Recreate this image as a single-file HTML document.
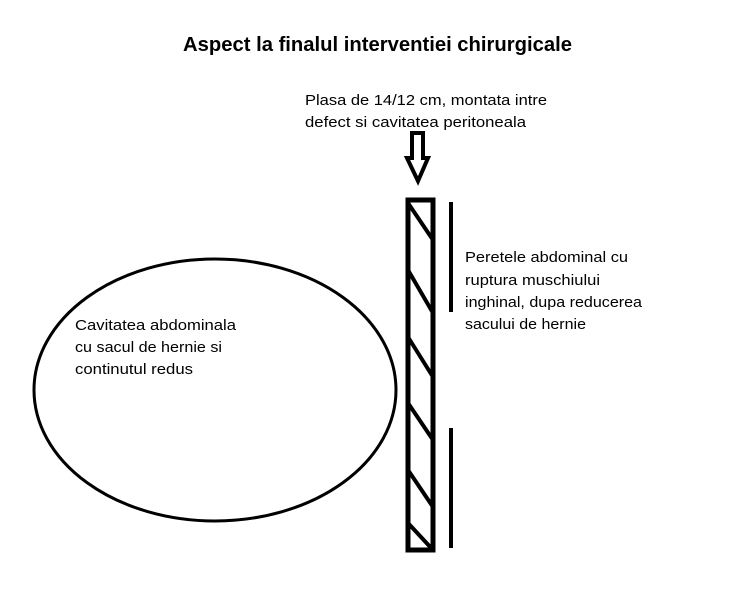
<!DOCTYPE html>
<html><head><style>
body{margin:0;background:#fff;}
svg{display:block}
text{font-family:"Liberation Sans",sans-serif;font-size:15px;fill:#000}
</style></head><body>
<svg width="752" height="595" viewBox="0 0 752 595">
<text x="183" y="51" textLength="389" lengthAdjust="spacingAndGlyphs" style="font-size:20px;font-weight:bold">Aspect la finalul interventiei chirurgicale</text>
<text x="305" y="105" textLength="242" lengthAdjust="spacingAndGlyphs">Plasa de 14/12 cm, montata intre</text>
<text x="305" y="127" textLength="221" lengthAdjust="spacingAndGlyphs">defect si cavitatea peritoneala</text>
<text x="465" y="262" textLength="163" lengthAdjust="spacingAndGlyphs">Peretele abdominal cu</text>
<text x="465" y="285" textLength="135" lengthAdjust="spacingAndGlyphs">ruptura muschiului</text>
<text x="465" y="307" textLength="177" lengthAdjust="spacingAndGlyphs">inghinal, dupa reducerea</text>
<text x="465" y="329" textLength="121" lengthAdjust="spacingAndGlyphs">sacului de hernie</text>
<text x="75" y="330" textLength="161" lengthAdjust="spacingAndGlyphs">Cavitatea abdominala</text>
<text x="75" y="352" textLength="147" lengthAdjust="spacingAndGlyphs">cu sacul de hernie si</text>
<text x="75" y="374" textLength="118" lengthAdjust="spacingAndGlyphs">continutul redus</text>
<ellipse cx="215" cy="390" rx="181" ry="131" fill="none" stroke="#000" stroke-width="3"/>
<path d="M412 133 H423 V158 H428 L418 181 L407 158 H412 Z" fill="none" stroke="#000" stroke-width="4" stroke-linejoin="miter"/>
<rect x="408" y="200" width="25" height="350" fill="none" stroke="#000" stroke-width="5"/>
<g stroke="#000" stroke-width="4">
<line x1="408" y1="203" x2="433" y2="240"/>
<line x1="408" y1="270" x2="433" y2="313"/>
<line x1="408" y1="337" x2="433" y2="377"/>
<line x1="408" y1="403" x2="433" y2="440"/>
<line x1="408" y1="470" x2="433" y2="507"/>
<line x1="408" y1="523" x2="433" y2="550"/>
<line x1="451" y1="202" x2="451" y2="312"/>
<line x1="451" y1="428" x2="451" y2="548"/>
</g>
</svg>
</body></html>
